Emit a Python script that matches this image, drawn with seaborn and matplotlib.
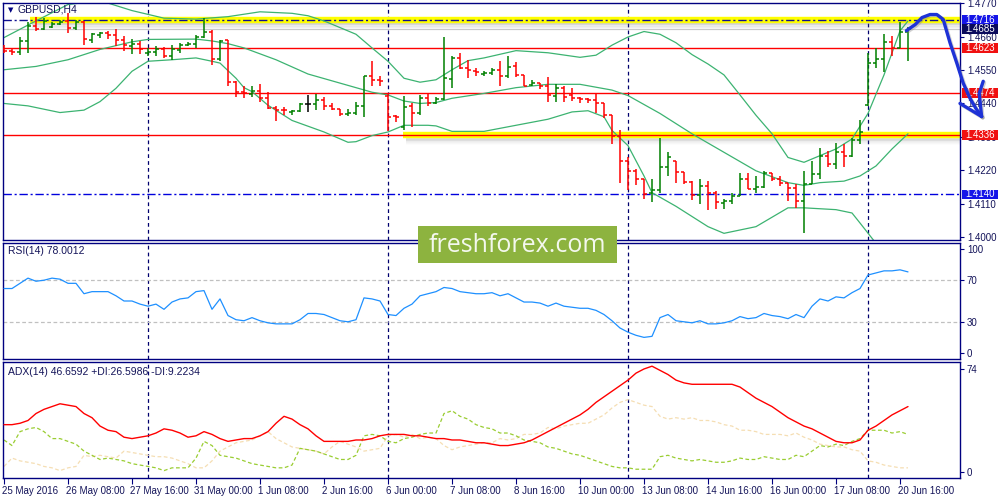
import matplotlib
matplotlib.use("Agg")
import matplotlib.pyplot as plt
import matplotlib.transforms as mtransforms
from matplotlib.patches import Rectangle
import seaborn as sns
import numpy as np

sns.set_style("white")
plt.rcParams['font.family'] = ['Liberation Sans', 'DejaVu Sans']

# ---- H4 bars, GBPUSD (index 0 = 25 May 2016 00:00) ----
opens = [1.4618, 1.4614, 1.4610, 1.4645, 1.4696, 1.4685, 1.4692, 1.4701, 1.4712, 1.4688,
         1.4710, 1.4650, 1.4667, 1.4672, 1.4666, 1.4648, 1.4630, 1.4637, 1.4606, 1.4609,
         1.4618, 1.4596, 1.4616, 1.4633, 1.4637, 1.4659, 1.4676, 1.4586, 1.4648, 1.4512,
         1.4479, 1.4470, 1.4481, 1.4459, 1.4424, 1.4420, 1.4412, 1.4414, 1.4439, 1.4439,
         1.4451, 1.4432, 1.4423, 1.4404, 1.4407, 1.4432, 1.4529, 1.4518, 1.4466, 1.4398,
         1.4362, 1.4432, 1.4409, 1.4459, 1.4443, 1.4454, 1.4521, 1.4590, 1.4557, 1.4548,
         1.4537, 1.4541, 1.4551, 1.4529, 1.4562, 1.4534, 1.4501, 1.4506, 1.4499, 1.4466,
         1.4492, 1.4468, 1.4459, 1.4454, 1.4451, 1.4440, 1.4401, 1.4334, 1.4251, 1.4218,
         1.4190, 1.4146, 1.4154, 1.4229, 1.4250, 1.4214, 1.4181, 1.4137, 1.4168, 1.4146,
         1.4112, 1.4120, 1.4134, 1.4190, 1.4159, 1.4166, 1.4210, 1.4192, 1.4179, 1.4162,
         1.4118, 1.4173, 1.4207, 1.4268, 1.4240, 1.4279, 1.4268, 1.4318, 1.4434, 1.4573,
         1.4588, 1.4643, 1.4623, 1.4677]
highs = [1.4634, 1.4618, 1.4659, 1.4707, 1.4726, 1.4723, 1.4710, 1.4714, 1.4737, 1.4714,
         1.4712, 1.4673, 1.4676, 1.4679, 1.4684, 1.4662, 1.4652, 1.4646, 1.4623, 1.4629,
         1.4626, 1.4632, 1.4640, 1.4642, 1.4666, 1.4721, 1.4681, 1.4649, 1.4649, 1.4513,
         1.4496, 1.4496, 1.4503, 1.4479, 1.4432, 1.4429, 1.4418, 1.4440, 1.4468, 1.4471,
         1.4460, 1.4440, 1.4423, 1.4423, 1.4446, 1.4532, 1.4579, 1.4529, 1.4473, 1.4401,
         1.4464, 1.4443, 1.4468, 1.4473, 1.4462, 1.4659, 1.4596, 1.4607, 1.4584, 1.4557,
         1.4546, 1.4557, 1.4581, 1.4596, 1.4577, 1.4534, 1.4518, 1.4507, 1.4526, 1.4503,
         1.4496, 1.4490, 1.4462, 1.4459, 1.4470, 1.4443, 1.4401, 1.4351, 1.4262, 1.4223,
         1.4190, 1.4192, 1.4326, 1.4279, 1.4250, 1.4214, 1.4184, 1.4190, 1.4184, 1.4151,
         1.4126, 1.4146, 1.4212, 1.4212, 1.4201, 1.4218, 1.4212, 1.4201, 1.4179, 1.4173,
         1.4218, 1.4251, 1.4292, 1.4284, 1.4310, 1.4307, 1.4326, 1.4384, 1.4607, 1.4623,
         1.4670, 1.4662, 1.4707, 1.4692]
lows = [1.4607, 1.4601, 1.4599, 1.4607, 1.4679, 1.4682, 1.4688, 1.4699, 1.4672, 1.4681,
        1.4634, 1.4640, 1.4657, 1.4651, 1.4629, 1.4614, 1.4603, 1.4603, 1.4596, 1.4596,
        1.4590, 1.4583, 1.4607, 1.4629, 1.4623, 1.4657, 1.4566, 1.4579, 1.4496, 1.4462,
        1.4459, 1.4462, 1.4446, 1.4423, 1.4381, 1.4401, 1.4403, 1.4412, 1.4412, 1.4418,
        1.4420, 1.4420, 1.4399, 1.4399, 1.4401, 1.4396, 1.4499, 1.4499, 1.4348, 1.4379,
        1.4351, 1.4362, 1.4401, 1.4432, 1.4437, 1.4451, 1.4490, 1.4555, 1.4523, 1.4532,
        1.4529, 1.4534, 1.4499, 1.4523, 1.4528, 1.4496, 1.4499, 1.4488, 1.4446, 1.4446,
        1.4446, 1.4448, 1.4443, 1.4443, 1.4410, 1.4392, 1.4308, 1.4179, 1.4154, 1.4172,
        1.4126, 1.4114, 1.4146, 1.4201, 1.4177, 1.4173, 1.4121, 1.4110, 1.4090, 1.4092,
        1.4092, 1.4107, 1.4134, 1.4157, 1.4146, 1.4162, 1.4184, 1.4168, 1.4118, 1.4096,
        1.4012, 1.4173, 1.4192, 1.4229, 1.4223, 1.4229, 1.4262, 1.4307, 1.4432, 1.4557,
        1.4543, 1.4596, 1.4623, 1.4579]
closes = [1.4612, 1.4610, 1.4646, 1.4696, 1.4684, 1.4712, 1.4701, 1.4710, 1.4688, 1.4710,
          1.4651, 1.4668, 1.4672, 1.4666, 1.4648, 1.4632, 1.4637, 1.4618, 1.4610, 1.4618,
          1.4596, 1.4618, 1.4632, 1.4637, 1.4659, 1.4676, 1.4587, 1.4646, 1.4512, 1.4479,
          1.4474, 1.4481, 1.4459, 1.4426, 1.4420, 1.4417, 1.4414, 1.4439, 1.4439, 1.4451,
          1.4432, 1.4423, 1.4406, 1.4407, 1.4432, 1.4529, 1.4518, 1.4514, 1.4396, 1.4396,
          1.4429, 1.4410, 1.4459, 1.4443, 1.4454, 1.4523, 1.4590, 1.4557, 1.4551, 1.4543,
          1.4541, 1.4551, 1.4530, 1.4559, 1.4534, 1.4499, 1.4506, 1.4499, 1.4468, 1.4492,
          1.4462, 1.4459, 1.4454, 1.4451, 1.4440, 1.4401, 1.4334, 1.4251, 1.4218, 1.4190,
          1.4143, 1.4154, 1.4229, 1.4262, 1.4214, 1.4181, 1.4137, 1.4168, 1.4146, 1.4114,
          1.4120, 1.4134, 1.4190, 1.4159, 1.4166, 1.4210, 1.4192, 1.4179, 1.4162, 1.4118,
          1.4173, 1.4207, 1.4268, 1.4240, 1.4279, 1.4268, 1.4318, 1.4346, 1.4573, 1.4588,
          1.4643, 1.4623, 1.4677, 1.4685]

bb_up_idx = [0, 4, 8, 12, 16, 20, 24, 28, 32, 36, 38, 40, 44, 46, 48, 50, 52, 54, 56, 58,
             60, 64, 68, 72, 74, 76, 78, 80, 82, 84, 86, 88, 90, 92, 94, 96, 98, 100, 102,
             104, 106, 108, 110, 112, 113]
bb_up = [1.4657, 1.4712, 1.4766, 1.4779, 1.4746, 1.4721, 1.4718, 1.4726, 1.4742, 1.4737,
         1.4729, 1.4712, 1.4668, 1.4623, 1.4579, 1.4523, 1.4510, 1.4518, 1.4551, 1.4581,
         1.4590, 1.4614, 1.4607, 1.4592, 1.4599, 1.4632, 1.4659, 1.4677, 1.4668, 1.4640,
         1.4601, 1.4570, 1.4534, 1.4468, 1.4401, 1.4340, 1.4262, 1.4246, 1.4268, 1.4290,
         1.4323, 1.4407, 1.4534, 1.4679, 1.4712]
bb_mid_idx = [0, 4, 8, 12, 16, 18, 24, 26, 28, 30, 34, 38, 42, 46, 48, 50, 52, 54, 56, 60,
              64, 68, 72, 76, 78, 82, 86, 90, 94, 98, 100, 102, 105, 107, 109, 111, 113]
bb_mid = [1.4551, 1.4562, 1.4584, 1.4618, 1.4643, 1.4651, 1.4652, 1.4646, 1.4637, 1.4623,
          1.4584, 1.4537, 1.4507, 1.4477, 1.4468, 1.4448, 1.4440, 1.4443, 1.4457, 1.4473,
          1.4492, 1.4503, 1.4503, 1.4484, 1.4466, 1.4407, 1.4340, 1.4279, 1.4218, 1.4179,
          1.4170, 1.4179, 1.4184, 1.4201, 1.4234, 1.4290, 1.4340]
bb_low_idx = [0, 3, 7, 10, 12, 14, 16, 18, 21, 24, 26, 27, 29, 30, 31, 33, 36, 40, 43, 44,
              46, 48, 50, 53, 54, 56, 60, 64, 68, 71, 73, 75, 76, 78, 80, 81, 84, 88, 90,
              94, 98, 100, 104, 106, 107, 109, 113]
bb_low = [1.4440, 1.4432, 1.4410, 1.4418, 1.4446, 1.4490, 1.4546, 1.4579, 1.4584, 1.4590,
          1.4579, 1.4573, 1.4523, 1.4492, 1.4479, 1.4434, 1.4384, 1.4346, 1.4312, 1.4314,
          1.4334, 1.4346, 1.4368, 1.4368, 1.4366, 1.4348, 1.4348, 1.4368, 1.4388, 1.4412,
          1.4416, 1.4396, 1.4351, 1.4301, 1.4201, 1.4146, 1.4101, 1.4034, 1.4012, 1.4034,
          1.4096, 1.4096, 1.4090, 1.4079, 1.4046, 1.3979, 1.3901]

# RSI(14), one value per bar
rsi = [62, 62, 67, 72, 69, 70, 72, 71, 67, 67, 57, 59, 59, 59, 55, 50, 50, 47, 45, 47,
       42, 49, 52, 53, 59, 60, 42, 52, 36, 32, 31, 34, 31, 29, 28, 28, 28, 32, 38, 38,
       37, 34, 31, 30, 32, 53, 52, 50, 37, 36, 43, 47, 55, 57, 59, 63, 62, 59, 58, 57,
       57, 58, 55, 57, 53, 49, 49, 48, 45, 48, 45, 44, 43, 43, 41, 37, 31, 24, 20, 17,
       15, 16, 34, 37, 31, 30, 29, 31, 28, 28, 29, 31, 35, 33, 34, 38, 36, 35, 33, 37,
       34, 45, 52, 50, 54, 53, 58, 62, 75, 77, 79, 79, 80, 78]

# ADX(14), +DI, -DI, one value per bar
adx = [34, 34, 35, 37, 42, 45, 47, 49, 48, 47, 42, 39, 33, 30, 29, 25, 24, 25, 26, 28,
       31, 30, 28, 25, 26, 29, 27, 24, 22, 23, 24, 24, 26, 29, 35, 40, 38, 34, 31, 26,
       22, 22, 22, 22, 23, 23, 24, 26, 27, 27, 27, 26, 26, 25, 24, 24, 23, 23, 22, 21,
       21, 20, 19, 19, 20, 21, 23, 26, 29, 32, 35, 38, 41, 45, 50, 54, 58, 62, 66, 71,
       74, 76, 73, 70, 66, 64, 63, 63, 63, 63, 63, 63, 61, 57, 53, 50, 47, 43, 39, 36,
       33, 31, 28, 25, 22, 21, 21, 23, 30, 33, 37, 41, 44, 47]
plus_di = [23, 19, 29, 31, 32, 29, 24, 24, 22, 20, 15, 12, 9, 10, 9, 8, 6, 5, 4, 3,
           1, 3, 3, 3, 10, 22, 19, 12, 11, 10, 8, 6, 5, 4, 3, 3, 5, 17, 16, 15,
           13, 11, 9, 9, 12, 26, 27, 26, 22, 21, 24, 25, 27, 28, 28, 42, 44, 40, 38, 34,
           32, 31, 28, 28, 26, 23, 22, 21, 18, 17, 15, 13, 12, 10, 8, 6, 4, 3, 3, 2,
           2, 2, 11, 12, 10, 9, 8, 9, 8, 7, 7, 8, 10, 9, 9, 11, 10, 9, 9, 12,
           11, 15, 19, 18, 20, 19, 22, 24, 30, 30, 30, 28, 29, 27]
minus_di = [4, 10, 8, 7, 6, 4, 3, 1, 3, 4, 12, 11, 12, 11, 10, 15, 14, 13, 12, 11,
            11, 10, 8, 6, 3, 3, 8, 15, 18, 21, 22, 23, 26, 29, 24, 21, 18, 17, 16, 15,
            13, 18, 22, 20, 18, 15, 16, 17, 26, 27, 25, 27, 24, 25, 24, 19, 16, 18, 19, 20,
            21, 21, 24, 23, 24, 27, 27, 28, 32, 31, 33, 34, 35, 35, 38, 41, 46, 50, 52, 50,
            48, 47, 40, 38, 39, 38, 39, 37, 37, 36, 34, 33, 30, 30, 29, 27, 27, 27, 26, 28,
            25, 23, 20, 19, 18, 18, 16, 15, 8, 7, 5, 4, 3, 3]

# x axis
tick_idx = [0, 8, 16, 24, 32, 40, 48, 56, 64, 72, 80, 88, 96, 104, 112]
tick_labels = ["25 May 2016", "26 May 08:00", "27 May 16:00", "31 May 00:00", "1 Jun 08:00",
               "2 Jun 16:00", "6 Jun 00:00", "7 Jun 08:00", "8 Jun 16:00", "10 Jun 00:00",
               "13 Jun 08:00", "14 Jun 16:00", "16 Jun 00:00", "17 Jun 08:00", "20 Jun 16:00"]
week_sep = [18, 48, 78, 108]

# levels drawn on the price chart
price_ticks = [1.4000, 1.4110, 1.4220, 1.4330, 1.4440, 1.4550, 1.4660, 1.4770]
red_levels = [1.4623, 1.4474, 1.4336]
dashdot_levels = [1.4716, 1.4140]
bid_level = 1.4685
yellow_levels = [1.4716, 1.4336]
yellow_start = [3.25, 49.9]
label_levels = [1.4716, 1.4685, 1.4623, 1.4474, 1.4336, 1.4140]
label_colors = ["#1515e8", "#0a0a5c", "#f01010", "#f01010", "#f01010", "#1515e8"]

# hand-drawn forecast arrow (bar index, price)
arrow_x = [112.8, 113.9, 114.75, 115.75, 116.6, 117.4, 118.25, 119.1, 119.9, 120.75, 121.5, 122.2]
arrow_y = [1.4680, 1.4700, 1.4723, 1.4733, 1.4733, 1.4717, 1.4640, 1.4573, 1.4507, 1.4457,
           1.4423, 1.4397]
barb_left_x = [119.5, 122.2]
barb_left_y = [1.4440, 1.4397]
barb_right_x = [122.4, 121.9, 122.2]
barb_right_y = [1.4513, 1.4473, 1.4397]

NAVY = "#000080"
TXT = "#14145a"
idx = np.arange(len(closes))
xmin, xmax = -0.125, 119.5

fig = plt.figure(figsize=(10, 5), dpi=100)
fig.patch.set_facecolor("white")
ax_p = fig.add_axes([0.003, 1 - 240 / 500, 0.957, 237 / 500])
ax_r = fig.add_axes([0.003, 1 - 359 / 500, 0.957, 116 / 500])
ax_a = fig.add_axes([0.003, 1 - 478 / 500, 0.957, 116 / 500])

for ax in (ax_p, ax_r, ax_a):
    ax.set_xlim(xmin, xmax)
    for s in ax.spines.values():
        s.set_color(NAVY)
        s.set_linewidth(1.0)
    ax.yaxis.tick_right()
    ax.tick_params(axis="y", colors=NAVY, labelcolor=TXT, labelsize=7, length=3, width=0.8, pad=2)
    ax.set_xticks([])
    for w in week_sep:
        ax.axvline(w, color="#00006e", lw=0.9, ls=(0, (3, 2.5)), zorder=1)

# ---- price panel ----
ax_p.set_ylim(1.3990, 1.4771)
ax_p.set_yticks(price_ticks)
ax_p.set_yticklabels([f"{v:.4f}" for v in price_ticks])

# yellow highlight bands with soft shadow
for lvl, x0 in zip(yellow_levels, yellow_start):
    for k in range(1, 9):
        ax_p.plot([x0 + 0.3, xmax], [lvl - 0.0008 - k * 0.00025] * 2, color="#606060",
                  alpha=0.16 * (1 - k / 9), lw=1.2, solid_capstyle="butt", zorder=1)
    ax_p.plot([x0, xmax], [lvl, lvl], color="#ffff00", lw=4.6, solid_capstyle="butt", zorder=1.5)

ax_p.axhline(bid_level, color="#c8c8c8", lw=0.9, zorder=1.6)
for lvl in red_levels:
    ax_p.axhline(lvl, color="#ff0000", lw=1.0, zorder=1.7)
ax_p.axhline(dashdot_levels[0], color="#101090", lw=1.0, ls=(0, (6, 2, 1.5, 2)), zorder=1.8)
ax_p.axhline(dashdot_levels[1], color="#0000dd", lw=1.0, ls=(0, (6, 2, 1.5, 2)), zorder=1.8)

bb_col = "#3cb371"
sns.lineplot(x=bb_up_idx, y=bb_up, ax=ax_p, color=bb_col, lw=0.9, zorder=2)
sns.lineplot(x=bb_mid_idx, y=bb_mid, ax=ax_p, color=bb_col, lw=0.9, zorder=2)
sns.lineplot(x=bb_low_idx, y=bb_low, ax=ax_p, color=bb_col, lw=0.9, zorder=2)

o = np.array(opens)
c = np.array(closes)
bar_cols = np.where(c > o, "#008000", np.where(c < o, "#ff0000", "#000000"))
ax_p.vlines(idx, lows, highs, colors=bar_cols, lw=1.1, zorder=3)
ax_p.hlines(opens, idx - 0.42, idx, colors=bar_cols, lw=1.1, zorder=3)
ax_p.hlines(closes, idx, idx + 0.42, colors=bar_cols, lw=1.1, zorder=3)
ax_p.set_xlabel("")
ax_p.set_ylabel("")

# coloured price labels on the right scale
blend = mtransforms.blended_transform_factory(ax_p.transAxes, ax_p.transData)
for lvl, col in zip(label_levels, label_colors):
    ax_p.add_patch(Rectangle((1.0018, lvl - 0.00155), 0.0375, 0.0031, transform=blend,
                             facecolor=col, edgecolor="none", clip_on=False, zorder=6))
    ax_p.text(1.0018 + 0.0188, lvl, f"{lvl:.4f}", transform=blend, color="white",
              fontsize=7, ha="center", va="center", clip_on=False, zorder=7)

# forecast arrow
for xs, ys in ((arrow_x, arrow_y), (barb_left_x, barb_left_y), (barb_right_x, barb_right_y)):
    ax_p.plot(np.array(xs) + 0.15, np.array(ys) - 0.0004, color="#808080", alpha=0.35,
              lw=2.6, clip_on=False, zorder=19, solid_capstyle="round", solid_joinstyle="round")
    ax_p.plot(xs, ys, color="#1e32d6", lw=2.4, clip_on=False, zorder=20,
              solid_capstyle="round", solid_joinstyle="round")

# ---- RSI panel ----
ax_r.set_ylim(-5.8, 105.8)
ax_r.set_yticks([0, 30, 70, 100])
for lvl in (30, 70):
    ax_r.axhline(lvl, color="#c0c0c0", lw=0.9, ls=(0, (3, 2)), zorder=1)
sns.lineplot(x=idx, y=rsi, ax=ax_r, color="#1e90ff", lw=0.9, zorder=3)
ax_r.set_xlabel("")
ax_r.set_ylabel("")

# ---- ADX panel ----
ax_a.set_ylim(-4.3, 79)
ax_a.set_yticks([0, 74])
sns.lineplot(x=idx, y=minus_di, ax=ax_a, color="#f5deb3", lw=0.9, zorder=2)
sns.lineplot(x=idx, y=plus_di, ax=ax_a, color="#9acd32", lw=0.9, zorder=2)
sns.lineplot(x=idx, y=adx, ax=ax_a, color="#ff0000", lw=1.0, zorder=3)
for ln in ax_a.get_lines()[-3:-1]:
    ln.set_linestyle((0, (3, 2)))
ax_a.set_xlabel("")
ax_a.set_ylabel("")
ax_a.set_xticks(tick_idx)
ax_a.set_xticklabels(tick_labels, ha="left")
ax_a.tick_params(axis="x", colors=NAVY, labelcolor=TXT, labelsize=7, length=4, width=0.8,
                 pad=2, bottom=True)
for lab in ax_a.get_xticklabels():
    lab.set_transform(lab.get_transform() + mtransforms.ScaledTranslation(-2 / 100, 0, fig.dpi_scale_trans))

# ---- panel captions ----
fig.text(0.0075, 1 - 10 / 500, "\u25bc", fontsize=5, color=NAVY, va="center", family="DejaVu Sans")
fig.text(0.018, 1 - 10 / 500, "GBPUSD,H4", fontsize=7.5, color=TXT, va="center")
fig.text(0.008, 1 - 251 / 500, "RSI(14) 78.0012", fontsize=7.5, color=TXT, va="center")
fig.text(0.008, 1 - 372 / 500, "ADX(14) 46.6592 +DI:26.5986 -DI:9.2234", fontsize=7.5,
         color=TXT, va="center")

# watermark
fig.add_artist(Rectangle((0.418, 1 - 263 / 500), 0.199, 37 / 500, transform=fig.transFigure,
                         facecolor="#8db33f", edgecolor="none", zorder=50))
fig.text(0.5175, 1 - 245 / 500, "freshforex.com", fontsize=18, color="#f4f8ee", ha="center",
         va="center", family="Open Sans", zorder=51)

fig.savefig("out.png", dpi=100)
